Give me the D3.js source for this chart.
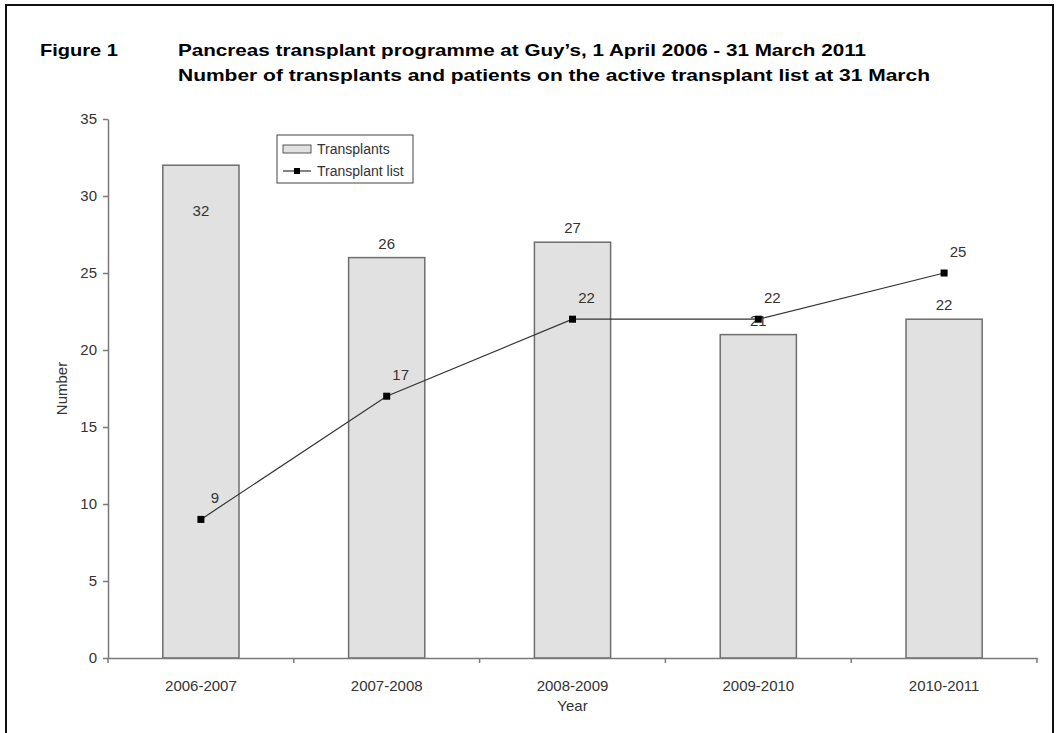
<!DOCTYPE html>
<html>
<head>
<meta charset="utf-8">
<script src="https://cdn.jsdelivr.net/npm/d3@7"></script>
<style>
  body { margin: 0; background: #fff; }
  text { font-family: "Liberation Sans", Arial, sans-serif; }
</style>
</head>
<body>
<div id="chart"></div>
<script>
// 데이터
const years = ["2006-2007", "2007-2008", "2008-2009", "2009-2010", "2010-2011"];
const transplants = [32, 26, 27, 21, 22];
const transplantList = [9, 17, 22, 22, 25];
const yTicks = [0, 5, 10, 15, 20, 25, 30, 35];

const width = 1058, height = 733;
const margin = { top: 119, right: 21, bottom: 75, left: 108 };

const svg = d3.select("#chart").append("svg")
  .attr("width", width)
  .attr("height", height);

svg.append("rect")
  .attr("width", width).attr("height", height)
  .attr("fill", "#fff");

// 바깥 테두리
svg.append("rect")
  .attr("x", 6).attr("y", 5)
  .attr("width", 1047).attr("height", 745)
  .attr("fill", "none")
  .attr("stroke", "#111")
  .attr("stroke-width", 2);

// 제목
svg.append("text")
  .attr("x", 40).attr("y", 56)
  .attr("font-size", "17px").attr("font-weight", "bold")
  .attr("textLength", 78).attr("lengthAdjust", "spacingAndGlyphs")
  .text("Figure 1");

svg.append("text")
  .attr("x", 178).attr("y", 56)
  .attr("font-size", "17px").attr("font-weight", "bold")
  .attr("textLength", 688).attr("lengthAdjust", "spacingAndGlyphs")
  .text("Pancreas transplant programme at Guy\u2019s, 1 April 2006 - 31 March 2011");

svg.append("text")
  .attr("x", 178).attr("y", 81)
  .attr("font-size", "17px").attr("font-weight", "bold")
  .attr("textLength", 752).attr("lengthAdjust", "spacingAndGlyphs")
  .text("Number of transplants and patients on the active transplant list at 31 March");

const x = d3.scaleBand()
  .domain(years)
  .range([margin.left, width - margin.right])
  .paddingInner(0.59)
  .paddingOuter(0.295);

const y = d3.scaleLinear()
  .domain([0, 35])
  .range([height - margin.bottom, margin.top]);

const axisColor = "#7a7a7a";
const textColor = "#333";

// 막대
svg.selectAll("rect.bar")
  .data(transplants)
  .enter().append("rect")
  .attr("class", "bar")
  .attr("x", (d, i) => x(years[i]))
  .attr("y", d => y(d))
  .attr("width", x.bandwidth())
  .attr("height", d => y(0) - y(d))
  .attr("fill", "#e1e1e1")
  .attr("stroke", "#6e6e6e")
  .attr("stroke-width", 1.5);

// 막대 라벨 (위쪽이 막히면 막대 안쪽으로)
svg.selectAll("text.barLabel")
  .data(transplants)
  .enter().append("text")
  .attr("class", "barLabel")
  .attr("x", (d, i) => x(years[i]) + x.bandwidth() / 2)
  .attr("y", d => d > 30 ? y(d - 3) + 5 : y(d) - 9)
  .attr("text-anchor", "middle")
  .attr("font-size", "15px")
  .attr("fill", textColor)
  .text(d => d);

// Y축
const yAxis = svg.append("g")
  .attr("transform", `translate(${margin.left},0)`)
  .call(d3.axisLeft(y).tickValues(yTicks).tickSize(5).tickSizeOuter(0).tickPadding(6));
yAxis.select(".domain").attr("stroke", axisColor).attr("stroke-width", 1.5);
yAxis.selectAll(".tick line").attr("stroke", axisColor).attr("stroke-width", 1.5);
yAxis.selectAll(".tick text")
  .attr("font-size", "15px").attr("fill", textColor)
  .attr("font-family", "Liberation Sans, Arial, sans-serif");

// X축
const xAxis = svg.append("g")
  .attr("transform", `translate(0,${y(0)})`)
  .call(d3.axisBottom(x).tickSize(0).tickSizeOuter(0).tickPadding(22));
xAxis.select(".domain").attr("stroke", axisColor).attr("stroke-width", 1.5);
xAxis.selectAll(".tick text")
  .attr("font-size", "15px").attr("fill", textColor)
  .attr("font-family", "Liberation Sans, Arial, sans-serif");

// 카테고리 경계 눈금
const boundaries = d3.range(years.length + 1).map(i => x.range()[0] + i * x.step());
xAxis.selectAll("line.bound")
  .data(boundaries)
  .enter().append("line")
  .attr("class", "bound")
  .attr("x1", d => d).attr("x2", d => d)
  .attr("y1", 0).attr("y2", 5)
  .attr("stroke", axisColor)
  .attr("stroke-width", 1.5);

// 축 제목
svg.append("text")
  .attr("x", (margin.left + width - margin.right) / 2)
  .attr("y", 711)
  .attr("text-anchor", "middle")
  .attr("font-size", "15px").attr("fill", textColor)
  .text("Year");

svg.append("text")
  .attr("transform", `translate(67, ${(y(0) + y(35)) / 2}) rotate(-90)`)
  .attr("text-anchor", "middle")
  .attr("font-size", "15px").attr("fill", textColor)
  .text("Number");

// 꺾은선
const cx = i => x(years[i]) + x.bandwidth() / 2;
svg.append("path")
  .datum(transplantList)
  .attr("fill", "none")
  .attr("stroke", "#333")
  .attr("stroke-width", 1.2)
  .attr("d", d3.line().x((d, i) => cx(i)).y(d => y(d)));

svg.selectAll("rect.marker")
  .data(transplantList)
  .enter().append("rect")
  .attr("class", "marker")
  .attr("x", (d, i) => cx(i) - 3.5)
  .attr("y", d => y(d) - 3.5)
  .attr("width", 7).attr("height", 7)
  .attr("fill", "#000");

svg.selectAll("text.lineLabel")
  .data(transplantList)
  .enter().append("text")
  .attr("class", "lineLabel")
  .attr("x", (d, i) => cx(i) + 14)
  .attr("y", d => y(d) - 16)
  .attr("text-anchor", "middle")
  .attr("font-size", "15px")
  .attr("fill", textColor)
  .text(d => d);

// 범례
const legend = svg.append("g").attr("transform", "translate(277,135)");
legend.append("rect")
  .attr("width", 136).attr("height", 48)
  .attr("fill", "#fff")
  .attr("stroke", "#444").attr("stroke-width", 1);
legend.append("rect")
  .attr("x", 6).attr("y", 10).attr("width", 28).attr("height", 8)
  .attr("fill", "#e1e1e1").attr("stroke", "#555");
legend.append("text")
  .attr("x", 40).attr("y", 19)
  .attr("font-size", "14px").attr("fill", textColor)
  .text("Transplants");
legend.append("line")
  .attr("x1", 6).attr("x2", 34).attr("y1", 36).attr("y2", 36)
  .attr("stroke", "#333").attr("stroke-width", 1.2);
legend.append("rect")
  .attr("x", 17).attr("y", 33).attr("width", 6).attr("height", 6)
  .attr("fill", "#000");
legend.append("text")
  .attr("x", 40).attr("y", 41)
  .attr("font-size", "14px").attr("fill", textColor)
  .text("Transplant list");
</script>
</body>
</html>
